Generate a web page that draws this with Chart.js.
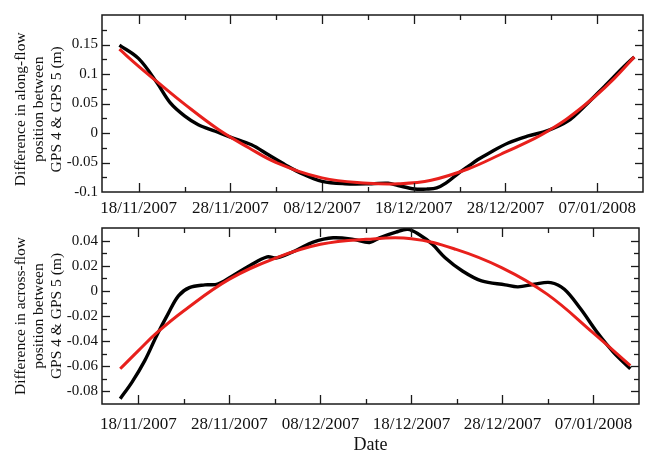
<!DOCTYPE html>
<html>
<head>
<meta charset="utf-8">
<script src="https://cdn.jsdelivr.net/npm/chart.js@4.4.1/dist/chart.umd.min.js"></script>
<style>
  html, body { margin: 0; padding: 0; background: #fff; }
  #wrap { position: relative; width: 649px; height: 453px; }
  canvas { position: absolute; left: 0; }
  #c1 { top: 0; }
  #c2 { top: 215px; }
</style>
</head>
<body>
<div id="wrap">
  <canvas id="c1" width="649" height="215"></canvas>
  <canvas id="c2" width="649" height="238"></canvas>
</div>
<script>
// x values: days after 18/11/2007
const xTickDays = [0, 10, 20, 30, 40, 50];
const xTickLabels = ['18/11/2007', '28/11/2007', '08/12/2007', '18/12/2007', '28/12/2007', '07/01/2008'];

const topYTickValues = [-0.1, -0.05, 0, 0.05, 0.1, 0.15];
const topYTickLabels = ['-0.1', '-0.05', '0', '0.05', '0.1', '0.15'];
const botYTickValues = [-0.08, -0.06, -0.04, -0.02, 0, 0.02, 0.04];
const botYTickLabels = ['-0.08', '-0.06', '-0.04', '-0.02', '0', '0.02', '0.04'];

// Along-flow difference (observed, black)
const alongObsDays = [-2.1, 0, 2, 3.45, 5, 6.5, 8.35, 10, 12.3, 14.15, 16, 17.8, 20, 22.5, 25.4, 27.2, 28.3, 30.1, 31.5, 32.5, 33.5, 34.9, 35.9, 37, 38.1, 40.3, 42.5, 44.6, 46.8, 48.6, 50.8, 52.96, 54.05];
const alongObs = [0.149, 0.126, 0.085, 0.051, 0.029, 0.014, 0.003, -0.007, -0.020, -0.037, -0.054, -0.069, -0.082, -0.086, -0.086, -0.085, -0.089, -0.095, -0.095, -0.093, -0.085, -0.068, -0.057, -0.045, -0.035, -0.017, -0.005, 0.004, 0.020, 0.045, 0.079, 0.113, 0.129];
// Along-flow fit (red)
const alongFitDays = [-2.1, 0, 2, 5, 8.7, 12, 15, 20, 25, 28.3, 31.9, 35.9, 39.5, 43.2, 44.6, 46.8, 49.7, 51.9, 54.05];
const alongFit = [0.142, 0.113, 0.087, 0.049, 0.006, -0.025, -0.050, -0.076, -0.085, -0.086, -0.080, -0.061, -0.036, -0.009, 0.003, 0.025, 0.061, 0.093, 0.129];

// Across-flow difference (observed, black)
const acrossObsDays = [-2, -0.7, 0.7, 2, 3.3, 4.4, 5.6, 7.3, 8.7, 10.2, 12.3, 14.15, 15.2, 17.4, 19.2, 21.4, 23.6, 25.4, 26.5, 28.3, 29.6, 30.8, 32.3, 33.7, 35.6, 37.7, 40.3, 41.7, 43.5, 45.3, 46.8, 48.6, 50.4, 52.2, 54.05];
const acrossObs = [-0.0858, -0.0726, -0.0555, -0.0357, -0.0177, -0.004, 0.0026, 0.0048, 0.0053, 0.0113, 0.0204, 0.0270, 0.0262, 0.0325, 0.0388, 0.0422, 0.041, 0.0385, 0.0422, 0.0467, 0.0489, 0.045, 0.037, 0.0264, 0.0158, 0.0079, 0.0048, 0.0032, 0.0053, 0.0066, 0.0013, -0.0145, -0.033, -0.0489, -0.062];
// Across-flow fit (red)
const acrossFitDays = [-2, 0, 2, 5, 10, 15, 20, 25, 30, 34.9, 39.9, 44.9, 49.9, 54.05];
const acrossFit = [-0.062, -0.0475, -0.0335, -0.0158, 0.0093, 0.0259, 0.037, 0.041, 0.0415, 0.033, 0.0185, -0.0026, -0.033, -0.0594];

const SERIF = "'Liberation Serif', 'Times New Roman', serif";
const RED = '#e8201c';

function pts(xs, ys) { return xs.map((x, i) => ({ x: x, y: ys[i] })); }
function lookup(vals, labels, v) {
  for (let i = 0; i < vals.length; i++) if (Math.abs(vals[i] - v) < 1e-7) return labels[i];
  return '';
}

const boxTicks = {
  id: 'boxTicks',
  afterDatasetsDraw(chart) {
    const { ctx, chartArea: { left, right, top, bottom }, scales: { x, y } } = chart;
    ctx.save();
    ctx.strokeStyle = '#1a1a1a';
    ctx.lineWidth = 1.3;
    const seg = (a, b, c, d) => { ctx.beginPath(); ctx.moveTo(a, b); ctx.lineTo(c, d); ctx.stroke(); };
    x.ticks.forEach(t => {
      const px = Math.round(x.getPixelForValue(t.value)) + 0.5;
      if (px <= left + 1.5 || px >= right - 1.5) return;
      const L = t.label ? 9 : 5;
      seg(px, bottom, px, bottom - L);
      seg(px, top, px, top + L);
    });
    y.ticks.forEach(t => {
      const py = Math.round(y.getPixelForValue(t.value)) + 0.5;
      if (py <= top + 1.5 || py >= bottom - 1.5) return;
      const L = t.label ? 8 : 5;
      seg(left, py, left + L, py);
      seg(right, py, right - L, py);
    });
    ctx.lineWidth = 1.5;
    ctx.strokeRect(left, top, right - left, bottom - top);
    ctx.restore();
  }
};

function makeChart(id, obsPts, fitPts, cfg) {
  return new Chart(document.getElementById(id), {
    type: 'line',
    data: {
      datasets: [
        { data: fitPts, borderColor: RED, borderWidth: 3, pointRadius: 0, tension: 0.4, fill: false, order: 1 },
        { data: obsPts, borderColor: '#000', borderWidth: 3.4, pointRadius: 0, tension: 0.35, fill: false, order: 2 }
      ]
    },
    options: {
      responsive: false,
      animation: false,
      devicePixelRatio: 1,
      layout: { padding: cfg.padding },
      plugins: { legend: { display: false }, tooltip: { enabled: false } },
      scales: {
        x: {
          type: 'linear', min: -4, max: 55,
          afterBuildTicks: s => { s.ticks = xTickDays.flatMap(d => [d, d + 5]).map(v => ({ value: v })); },
          afterFit: s => { s.height = cfg.xHeight; },
          grid: { display: false, drawTicks: false },
          border: { display: false },
          ticks: {
            autoSkip: false, maxRotation: 0, padding: cfg.xPad, color: '#111',
            font: { family: SERIF, size: 17 },
            callback: v => lookup(xTickDays, xTickLabels, v)
          },
          title: cfg.xTitle || { display: false }
        },
        y: {
          type: 'linear', min: cfg.yMin, max: cfg.yMax,
          afterBuildTicks: s => { s.ticks = cfg.yVals.flatMap(v => [v, v + cfg.yMinor]).map(v => ({ value: v })); },
          afterFit: s => { s.width = 102; },
          grid: { display: false, drawTicks: false },
          border: { display: false },
          ticks: {
            autoSkip: false, padding: 4, color: '#111',
            font: { family: SERIF, size: 15 },
            callback: v => lookup(cfg.yVals, cfg.yLabels, v)
          },
          title: {
            display: true, text: cfg.yTitle, color: '#111',
            font: { family: SERIF, size: 15.5, lineHeight: 18 / 15.5 },
            padding: { top: 12, bottom: 0 }
          }
        }
      }
    },
    plugins: [boxTicks]
  });
}

makeChart('c1', pts(alongObsDays, alongObs), pts(alongFitDays, alongFit), {
  padding: { top: 15, right: 4, left: 0, bottom: 0 },
  xHeight: 23, xPad: 6,
  yMin: -0.1, yMax: 0.2, yVals: topYTickValues, yLabels: topYTickLabels, yMinor: 0.025,
  yTitle: ['Difference in along-flow   ', 'position between   ', 'GPS 4 & GPS 5 (m)   ']
});

makeChart('c2', pts(acrossObsDays, acrossObs), pts(acrossFitDays, acrossFit), {
  padding: { top: 13, right: 4, left: 0, bottom: 0 },
  xHeight: 49, xPad: 10,
  xTitle: { display: true, text: 'Date', color: '#111', font: { family: SERIF, size: 18, lineHeight: 0.9 }, padding: { top: 0, bottom: 0 } },
  yMin: -0.09, yMax: 0.05, yVals: botYTickValues, yLabels: botYTickLabels, yMinor: 0.01,
  yTitle: ['Difference in across-flow', 'position between', 'GPS 4 & GPS 5 (m)']
});
</script>
</body>
</html>
